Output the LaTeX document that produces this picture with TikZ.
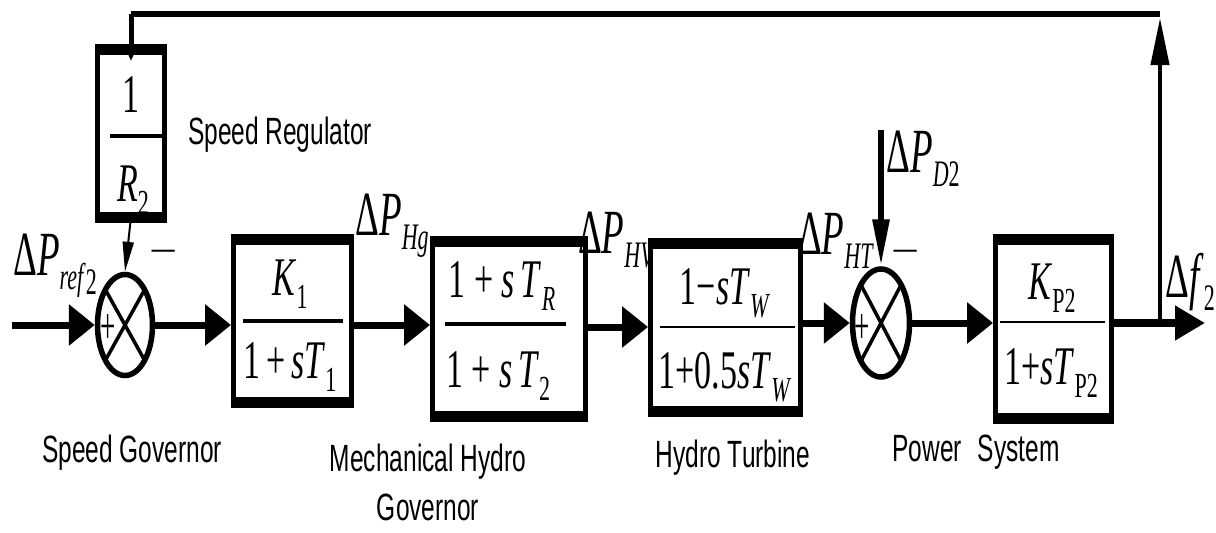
\documentclass[tikz,border=0pt]{standalone}
\usepackage{fontspec}
\usepackage{graphicx}
\setmainfont{Liberation Serif}
\newfontfamily\lsans{Liberation Sans}
\usetikzlibrary{arrows.meta,shapes.geometric}
\newcommand\mt[1]{\scalebox{1}[1.6]{\fontsize{34}{40}\selectfont #1}}
\newcommand\dl[1]{\scalebox{1}[1.7]{\fontsize{37}{40}\selectfont #1}}
\newcommand\sbs[1]{\raisebox{-8pt}{\fontsize{22}{24}\selectfont #1}}
\newcommand\iv[1]{\textit{#1}}
\newcommand\lab[1]{\scalebox{1}[1.55]{\lsans\fontsize{24.5}{32}\selectfont #1}}
\tikzset{
  blk/.style={draw, line width=5pt, inner sep=0pt},
  hbar/.style={line width=11pt},
  sumn/.style={draw, ellipse, line width=5.5pt, inner sep=0pt, minimum width=55pt, minimum height=101pt},
  harr/.style={line width=7pt, -{Triangle[length=26pt,width=40pt]}},
  fbar/.style={line width=4pt},
  tbar/.style={line width=2.5pt},
  xline/.style={line width=3.5pt},
  txt/.style={inner sep=0pt},
}
\begin{document}
\begin{tikzpicture}[x=1pt,y=-1pt]
\useasboundingbox (0,0) rectangle (1216,533);
% blocks
\node[blk, minimum width=67pt, minimum height=163pt] (r) at (131,133) {};
\node[blk, minimum width=118pt, minimum height=158pt] (k1) at (292.5,320.5) {};
\node[blk, minimum width=153pt, minimum height=170pt] (b2) at (509,328.5) {};
\node[blk, minimum width=150pt, minimum height=163pt] (b3) at (725.5,327) {};
\node[blk, minimum width=116pt, minimum height=174pt] (ps) at (1053.5,329) {};
\foreach \b in {r,k1,b2,b3,ps}{
  \draw[hbar] (\b.north west) -- (\b.north east);
  \draw[hbar] (\b.south west) -- (\b.south east);
}
% summing junctions
\node[sumn] (s1) at (125,325) {};
\node[sumn, minimum width=57pt, minimum height=108pt] (s2) at (881,323) {};
\draw[xline] ([shift={(-20,-36)}]s1.center) -- ([shift={(20,36)}]s1.center);
\draw[xline] ([shift={(20,-36)}]s1.center) -- ([shift={(-20,36)}]s1.center);
\draw[xline] ([shift={(-20,-38)}]s2.center) -- ([shift={(20,38)}]s2.center);
\draw[xline] ([shift={(20,-38)}]s2.center) -- ([shift={(-20,38)}]s2.center);
\node[txt] (p1) at (108,329) {\scalebox{1}[1.9]{\fontsize{27}{27}\selectfont +}};
\node[txt] (p2) at (862,329) {\scalebox{1}[1.9]{\fontsize{27}{27}\selectfont +}};
\node[txt] (m1) at (164,257) {\scalebox{1.25}[1]{\fontsize{40}{40}\selectfont −}};
\node[txt] (m2) at (906,257) {\scalebox{1.25}[1]{\fontsize{40}{40}\selectfont −}};
% fractions
\node[txt] (rn) at (131,95) {\mt{1}};
\draw[fbar] (110,136) -- (163,136);
\node[txt] (rd) at (133,190) {\mt{\iv{R}\sbs{2}}};
\node[txt] (k1n) at (290,284) {\mt{\iv{K}\sbs{1}}};
\draw[fbar] (243,321) -- (343,321);
\node[txt] (k1d) at (290,367) {\mt{1\,+\,\iv{sT}\sbs{1}}};
\node[txt] (b2n) at (502,286) {\mt{1 + \iv{s}\,\iv{T}\sbs{\iv{R}}}};
\draw[fbar] (445,324) -- (566,324);
\node[txt] (b2d) at (498,376) {\mt{1 + \iv{s}\,\iv{T}\sbs{2}}};
\node[txt] (b3n) at (725,293) {\mt{1−\iv{sT}\sbs{\iv{W}}}};
\draw[tbar] (660,327) -- (795,327);
\node[txt] (b3d) at (725,377) {\mt{1+0.5\iv{sT}\sbs{\iv{W}}}};
\node[txt] (psn) at (1052,288) {\mt{\iv{K}\sbs{P2}}};
\draw[tbar] (1000,322) -- (1105,322);
\node[txt] (psd) at (1051,373) {\mt{1+\iv{sT}\sbs{P2}}};
% signal labels
\node[txt] (lref) at (55,266) {\dl{Δ\iv{P}\sbs{\iv{ref}\raisebox{-3pt}{2}}}};
\node[txt] (lhg) at (392,226) {\dl{Δ\iv{P}\sbs{\iv{Hg}}}};
\node[txt] (lhv) at (617,240) {\dl{Δ\iv{P}\sbs{\iv{HV}}}};
\node[txt] (lht) at (836,241) {\dl{Δ\iv{P}\sbs{\iv{HT}}}};
\node[txt] (ld2) at (923,159) {\dl{Δ\iv{P}\sbs{\iv{D}2}}};
\node[txt, anchor=east] (lf) at (1215,282) {\dl{Δ\iv{f}\sbs{2}}};
% block labels
\node[txt] (lsr) at (280,135) {\lab{Speed Regulator}};
\node[txt] (lsg) at (132,453) {\lab{Speed Governor}};
\node[txt] (lmh) at (428,486) {\scalebox{1}[1.55]{\lsans\fontsize{24.5}{32}\selectfont\begin{tabular}{@{}c@{}}Mechanical Hydro\\Governor\end{tabular}}};
\node[txt] (lht2) at (733,458) {\lab{Hydro Turbine}};
\node[txt] (lps) at (976,452) {\lab{Power\hspace{16pt}System}};
% connectors
\coordinate (in) at (12,325);
\coordinate (out) at (1205,325);
\coordinate (br) at (1160,325);
\coordinate (tr) at (1160,14);
\coordinate (tl) at (131,14);
\coordinate (d2) at (881,130);
\draw[harr] (in) -- (s1.west);
\draw[harr] (s1.east) -- (s1.east -| k1.west);
\draw[harr] (k1.east |- s1) -- (b2.west |- s1);
\draw[harr] (b2.east |- b3) -- (b3.west);
\draw[harr] (b3.east |- s2) -- (s2.west);
\draw[harr] (s2.east) -- (s2.east -| ps.west);
\draw[line width=7.5pt, -{Triangle[length=30pt,width=33pt]}] (ps.east |- s2) -- (out |- s2);
\draw[line width=4pt, -{Triangle[length=47pt,width=18pt]}] (br |- s2) -- ([yshift=-4pt]tr);
\draw[line width=6pt, line cap=square] (tr) -- (tl);
\draw[line width=5pt, -{Triangle[length=10pt,width=8pt]}] (tl) -- ([yshift=-12pt]r.north);
\draw[line width=2pt, -{Triangle[length=30pt,width=11pt]}] (r.south) -- (s1.north);
\draw[line width=6pt, -{Triangle[length=47pt,width=16pt]}] (d2) -- (s2.north);
\end{tikzpicture}
\end{document}
